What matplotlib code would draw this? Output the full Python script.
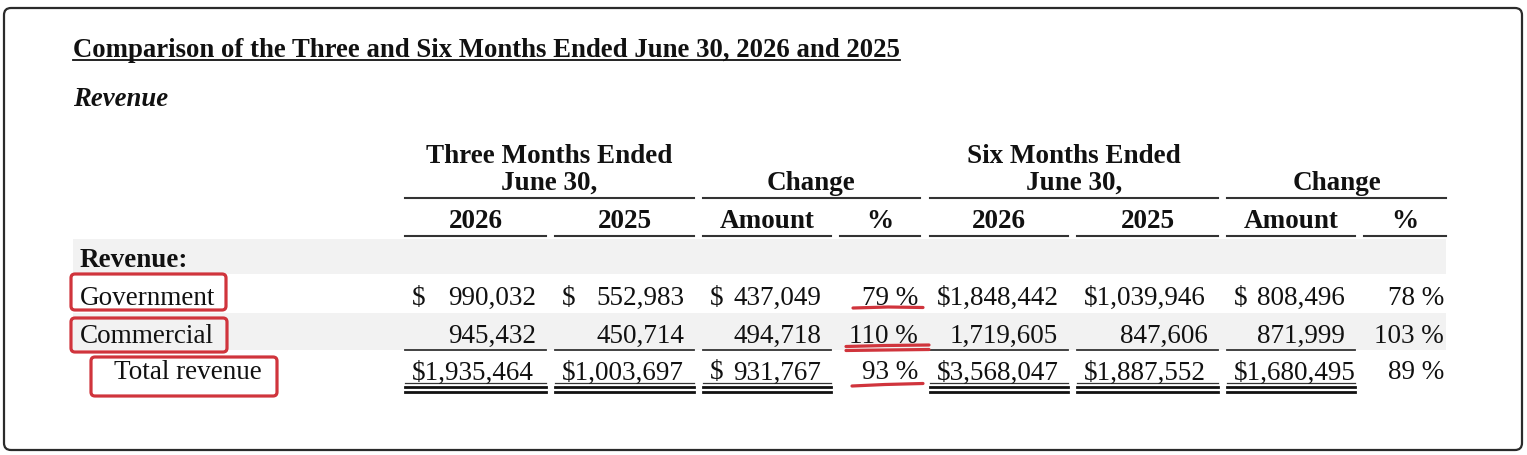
import matplotlib.pyplot as plt
from matplotlib.patches import FancyBboxPatch, Rectangle

# table values (in thousands)
row_labels = ["Government", "Commercial", "Total revenue"]
three_2026 = [990032, 945432, 1935464]
three_2025 = [552983, 450714, 1003697]
three_change = [437049, 494718, 931767]
three_pct = [79, 110, 93]
six_2026 = [1848442, 1719605, 3568047]
six_2025 = [1039946, 847606, 1887552]
six_change = [808496, 871999, 1680495]
six_pct = [78, 103, 89]

title = "Comparison of the Three and Six Months Ended June 30, 2026 and 2025"
subtitle = "Revenue"
group_titles = [("Three Months Ended", "June 30,"), ("", "Change"),
                ("Six Months Ended", "June 30,"), ("", "Change")]
sub_headers = ["2026", "2025", "Amount", "%", "2026", "2025", "Amount", "%"]
dollar_rows = [0, 2]

W, H = 1527, 456
fig = plt.figure(figsize=(W / 100, H / 100), dpi=100)
ax = fig.add_axes([0, 0, 1, 1])
ax.set_xlim(0, W)
ax.set_ylim(H, 0)
ax.axis("off")

serif = "Liberation Serif"
ink = "#111111"
rule = "#333333"
red = "#d0343c"
band = "#f2f2f2"
body_fs = 19.5
head_fs = 19.5

# outer frame
ax.add_patch(FancyBboxPatch((4, 9), 1518, 442, boxstyle="round,pad=0,rounding_size=7",
                            fc="white", ec="#2b2b2b", lw=1.6))

# title with underline
t = ax.text(73, 57, title, fontsize=19.3, fontweight="bold", family=serif,
            color=ink, ha="left", va="baseline")
fig.canvas.draw()
bb = t.get_window_extent(fig.canvas.get_renderer())
ax.plot([bb.x0, bb.x1], [61, 61], color=ink, lw=1.3)
ax.text(73, 106, subtitle, fontsize=19.3, fontweight="bold", fontstyle="italic",
        family=serif, color=ink, ha="left", va="baseline")

# column layout
cols = [(405, 546), (555, 694), (703, 831), (840, 920),
        (930, 1068), (1077, 1218), (1227, 1355), (1364, 1446)]
groups = [(0, 1), (2, 3), (4, 5), (6, 7)]
row_base = [305, 343, 379.5]

# shaded bands
ax.add_patch(Rectangle((73, 240), 1373, 35, fc=band, ec="none"))
ax.add_patch(Rectangle((73, 314), 1373, 37, fc=band, ec="none"))

# group headers
for (a, b), (l1, l2) in zip(groups, group_titles):
    x0, x1 = cols[a][0], cols[b][1]
    xc = (x0 + x1) / 2
    if l1:
        ax.text(xc, 163, l1, fontsize=head_fs, fontweight="bold", family=serif,
                color=ink, ha="center", va="baseline")
    ax.text(xc, 190, l2, fontsize=head_fs, fontweight="bold", family=serif,
            color=ink, ha="center", va="baseline")
    ax.plot([x0, x1], [199, 199], color=rule, lw=1.5)

for (x0, x1), h in zip(cols, sub_headers):
    ax.text((x0 + x1) / 2, 228, h, fontsize=head_fs, fontweight="bold", family=serif,
            color=ink, ha="center", va="baseline")
    ax.plot([x0, x1], [237, 237], color=rule, lw=1.5)

# row labels
ax.text(80, 267, "Revenue:", fontsize=body_fs, fontweight="bold", family=serif,
        color=ink, ha="left", va="baseline")
label_x = [80, 80, 114]
for lab, x, y in zip(row_labels, label_x, row_base):
    ax.text(x, y, lab, fontsize=body_fs, family=serif, color=ink,
            ha="left", va="baseline")

# values
money_cols = [(0, three_2026), (1, three_2025), (2, three_change),
              (4, six_2026), (5, six_2025), (6, six_change)]
for ci, vals in money_cols:
    x0, x1 = cols[ci]
    for ri, v in enumerate(vals):
        y = row_base[ri]
        s = f"{v:,}"
        if ri in dollar_rows and v >= 1_000_000:
            ax.text(x0 + 7, y, "$" + s, fontsize=body_fs, family=serif, color=ink,
                    ha="left", va="baseline")
        else:
            if ri in dollar_rows:
                ax.text(x0 + 7, y, "$", fontsize=body_fs, family=serif, color=ink,
                        ha="left", va="baseline")
            ax.text(x1 - 10, y, s, fontsize=body_fs, family=serif, color=ink,
                    ha="right", va="baseline")
    # subtotal rule and double rule under total
    ax.plot([x0, x1], [351, 351], color=rule, lw=1.3)
    ax.plot([x0, x1], [384, 384], color=rule, lw=0.9)
    ax.plot([x0, x1], [388.5, 388.5], color="#111111", lw=2.0)
    ax.plot([x0, x1], [393.5, 393.5], color="#111111", lw=2.0)

for ci, vals in [(3, three_pct), (7, six_pct)]:
    x1 = cols[ci][1]
    for ri, p in enumerate(vals):
        ax.text(x1 - 2, row_base[ri], f"{p} %", fontsize=body_fs, family=serif,
                color=ink, ha="right", va="baseline")

# red highlight marks
box_style = "round,pad=0,rounding_size=4"
for (bx, by, bw, bh) in [(71, 275, 155, 36), (71, 319, 156, 34), (91, 358, 186, 39)]:
    ax.add_patch(FancyBboxPatch((bx, by), bw, bh, boxstyle=box_style,
                                fc="none", ec=red, lw=2.3))

px0, px1 = cols[3]
ax.plot([px0 + 13, px0 + 48, px1 + 3], [309, 308, 308.5], color=red, lw=2.3,
        solid_capstyle="round")
ax.plot([px0 + 6, px0 + 45, px1 + 9], [347.5, 346.5, 346], color=red, lw=2.3,
        solid_capstyle="round")
ax.plot([px0 + 6, px0 + 45, px1 + 9], [351.5, 351, 350.5], color=red, lw=2.3,
        solid_capstyle="round")
ax.plot([px0 + 12, px0 + 45, px1 + 3], [387, 385.5, 384.5], color=red, lw=2.3,
        solid_capstyle="round")

fig.savefig("out.png", dpi=100)
